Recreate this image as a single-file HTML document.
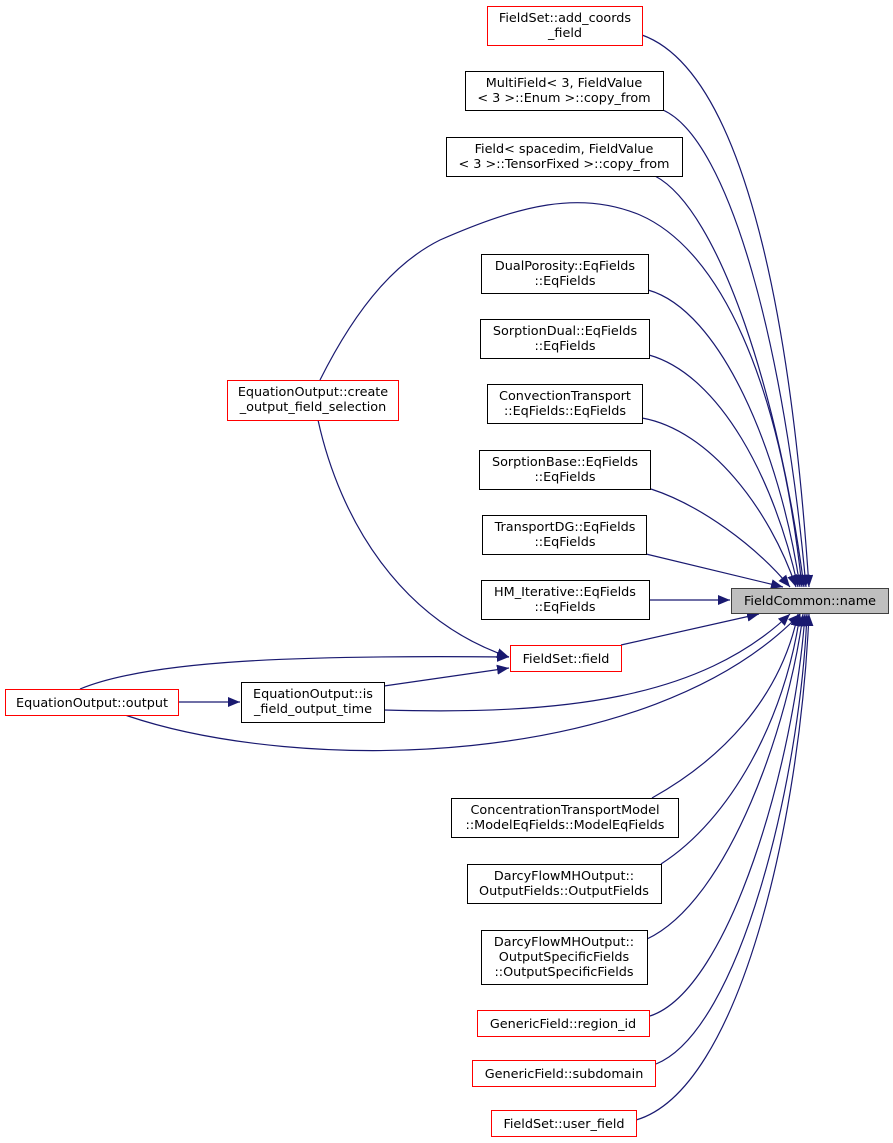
<!DOCTYPE html>
<html><head><meta charset="utf-8"><style>
html,body{margin:0;padding:0;background:#fff;}
svg{display:block;}
text{font-family:"DejaVu Sans","Liberation Sans",sans-serif;font-size:12.8px;fill:#000;}
</style></head><body>
<svg width="893" height="1143" viewBox="0 0 893 1143" xmlns="http://www.w3.org/2000/svg">
<defs>
<marker id="a" markerWidth="13" markerHeight="10" refX="12" refY="5" orient="auto" markerUnits="userSpaceOnUse">
<path d="M0,0 L12,5 L0,10 z" fill="#191970"/>
</marker>
</defs>
<g fill="none" stroke="#191970" stroke-width="1.2" marker-end="url(#a)">
<path d="M642,35 C740,70 790,300 809,587"/>
<path d="M663,110 C730,140 785,350 806,587"/>
<path d="M655,176 C720,210 780,400 804,587"/>
<path d="M320,380 C360,300 400,260 440,240 C520,205 580,190 640,215 C720,250 780,380 802,587"/>
<path d="M648,290 C720,310 780,450 800,587"/>
<path d="M649,355 C720,375 775,480 798,587"/>
<path d="M642,418 C710,430 770,510 796,587"/>
<path d="M651,489 C700,505 755,545 790,587"/>
<path d="M646,554 L783,587"/>
<path d="M649,600 L730,600"/>
<path d="M621,645 L759,614"/>
<path d="M318,420 C340,520 400,620 509,657"/>
<path d="M80,689 C150,660 300,655 509,657"/>
<path d="M384,686 L509,668"/>
<path d="M178,702 L240,702"/>
<path d="M384,710 C560,715 700,700 790,614"/>
<path d="M125,715 C300,775 650,770 800,614"/>
<path d="M652,798 C720,760 780,700 798,614"/>
<path d="M661,864 C730,820 785,720 800,614"/>
<path d="M647,939 C730,900 790,720 803,614"/>
<path d="M650,1016 C730,990 795,760 805,614"/>
<path d="M656,1064 C740,1030 800,780 807,614"/>
<path d="M636,1120 C740,1090 800,820 809,614"/>
</g>
<g stroke-width="1">
<rect x="731.5" y="588.5" width="157" height="25" fill="#bfbfbf" stroke="#404040"/>
<rect x="487.5" y="6.5" width="155" height="39" fill="#fff" stroke="#ff0000"/>
<rect x="465.5" y="71.5" width="198" height="39" fill="#fff" stroke="#000"/>
<rect x="446.5" y="137.5" width="236" height="39" fill="#fff" stroke="#000"/>
<rect x="481.5" y="254.5" width="167" height="39" fill="#fff" stroke="#000"/>
<rect x="480.5" y="319.5" width="169" height="39" fill="#fff" stroke="#000"/>
<rect x="487.5" y="384.5" width="155" height="39" fill="#fff" stroke="#000"/>
<rect x="479.5" y="450.5" width="171" height="39" fill="#fff" stroke="#000"/>
<rect x="482.5" y="515.5" width="164" height="39" fill="#fff" stroke="#000"/>
<rect x="481.5" y="580.5" width="168" height="39" fill="#fff" stroke="#000"/>
<rect x="510.5" y="645.5" width="111" height="26" fill="#fff" stroke="#ff0000"/>
<rect x="227.5" y="380.5" width="171" height="40" fill="#fff" stroke="#ff0000"/>
<rect x="5.5" y="689.5" width="173" height="26" fill="#fff" stroke="#ff0000"/>
<rect x="241.5" y="682.5" width="143" height="40" fill="#fff" stroke="#000"/>
<rect x="451.5" y="798.5" width="227" height="39" fill="#fff" stroke="#000"/>
<rect x="467.5" y="864.5" width="194" height="39" fill="#fff" stroke="#000"/>
<rect x="481.5" y="930.5" width="166" height="54" fill="#fff" stroke="#000"/>
<rect x="477.5" y="1010.5" width="172" height="26" fill="#fff" stroke="#ff0000"/>
<rect x="472.5" y="1060.5" width="183" height="26" fill="#fff" stroke="#ff0000"/>
<rect x="491.5" y="1110.5" width="145" height="26" fill="#fff" stroke="#ff0000"/>
</g>
<g text-anchor="middle">
<text x="810" y="605">FieldCommon::name</text>
<text x="565" y="22">FieldSet::add_coords</text><text x="565" y="37">_field</text>
<text x="564" y="87">MultiField&lt; 3, FieldValue</text><text x="564" y="102">&lt; 3 &gt;::Enum &gt;::copy_from</text>
<text x="564" y="153">Field&lt; spacedim, FieldValue</text><text x="564" y="168">&lt; 3 &gt;::TensorFixed &gt;::copy_from</text>
<text x="565" y="270">DualPorosity::EqFields</text><text x="565" y="285">::EqFields</text>
<text x="565" y="335">SorptionDual::EqFields</text><text x="565" y="350">::EqFields</text>
<text x="565" y="400">ConvectionTransport</text><text x="565" y="415">::EqFields::EqFields</text>
<text x="565" y="466">SorptionBase::EqFields</text><text x="565" y="481">::EqFields</text>
<text x="565" y="531">TransportDG::EqFields</text><text x="565" y="546">::EqFields</text>
<text x="565" y="596">HM_Iterative::EqFields</text><text x="565" y="611">::EqFields</text>
<text x="566" y="663">FieldSet::field</text>
<text x="313" y="396">EquationOutput::create</text><text x="313" y="411">_output_field_selection</text>
<text x="92" y="707">EquationOutput::output</text>
<text x="313" y="698">EquationOutput::is</text><text x="313" y="713">_field_output_time</text>
<text x="565" y="814">ConcentrationTransportModel</text><text x="565" y="829">::ModelEqFields::ModelEqFields</text>
<text x="564" y="880">DarcyFlowMHOutput::</text><text x="564" y="895">OutputFields::OutputFields</text>
<text x="564" y="946">DarcyFlowMHOutput::</text><text x="564" y="961">OutputSpecificFields</text><text x="564" y="976">::OutputSpecificFields</text>
<text x="563" y="1028">GenericField::region_id</text>
<text x="564" y="1078">GenericField::subdomain</text>
<text x="564" y="1128">FieldSet::user_field</text>
</g>
</svg>
</body></html>
